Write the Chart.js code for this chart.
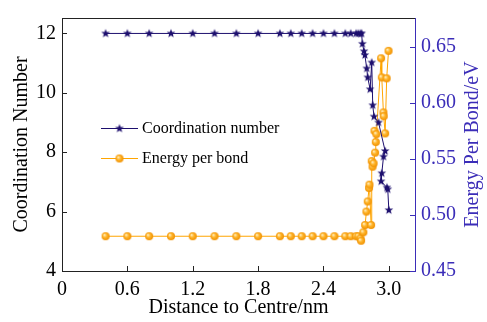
<!DOCTYPE html>
<html>
<head>
<meta charset="utf-8">
<script src="https://cdn.jsdelivr.net/npm/chart.js@4"></script>
<style>
  html, body { margin: 0; padding: 0; background: #fff; }
  #wrap { width: 487px; height: 322px; }
</style>
</head>
<body>
<div id="wrap"><canvas id="chart" width="487" height="322"></canvas></div>
<script>
// --- Data ---
const cnDist = [0.4, 0.6, 0.8, 1.0, 1.2, 1.4, 1.6, 1.8, 2.0, 2.1, 2.2, 2.3, 2.4, 2.5, 2.6, 2.65, 2.7, 2.72, 2.74, 2.75,
  2.757, 2.772, 2.78, 2.797, 2.806, 2.828, 2.843, 2.852, 2.864, 2.905, 2.966, 2.951, 2.935, 2.929, 2.982, 2.99, 3.0];
const cnValues = [12, 12, 12, 12, 12, 12, 12, 12, 12, 12, 12, 12, 12, 12, 12, 12, 12, 12, 12, 12,
  11.65, 11.40, 11.27, 10.82, 10.52, 10.12, 11.02, 9.58, 9.20, 9.00, 8.04, 7.85, 7.29, 7.02, 6.81, 6.75, 6.05];

const ebDist = [0.4, 0.6, 0.8, 1.0, 1.2, 1.4, 1.6, 1.8, 2.0, 2.1, 2.2, 2.3, 2.4, 2.5, 2.6, 2.65, 2.7, 2.72, 2.74,
  2.745, 2.766, 2.782, 2.794, 2.806, 2.818, 2.822, 2.837, 2.843, 2.85, 2.86, 2.874, 2.88, 2.868, 2.886,
  2.929, 2.935, 2.95, 2.953, 2.966, 2.98, 2.997];
const ebValues = [0.481, 0.481, 0.481, 0.481, 0.481, 0.481, 0.481, 0.481, 0.481, 0.481, 0.481, 0.481, 0.481, 0.481, 0.481, 0.481, 0.481, 0.481, 0.479,
  0.477, 0.4845, 0.491, 0.503, 0.512, 0.524, 0.527, 0.491, 0.548, 0.543, 0.546, 0.5555, 0.565, 0.575, 0.572,
  0.6397, 0.6226, 0.5914, 0.588, 0.5727, 0.6218, 0.6463];

const xTicks = [0, 0.6, 1.2, 1.8, 2.4, 3.0];
const cnTicks = [4, 6, 8, 10, 12];
const ebTicks = [0.45, 0.50, 0.55, 0.60, 0.65];

const FONT = "'Liberation Serif', 'Times New Roman', serif";
const NAVY = "#1d0f6e";
const ORANGE = "#ffa500";
const PURPLE = "#3b2db8";

// --- Marker images ---
function makeStar(r, color) {
  const c = document.createElement("canvas");
  const s = Math.ceil(r * 2) + 2;
  c.width = c.height = s;
  const g = c.getContext("2d");
  g.fillStyle = color;
  g.beginPath();
  for (let i = 0; i < 10; i++) {
    const rad = i % 2 ? r * 0.42 : r;
    const ang = -Math.PI / 2 + i * Math.PI / 5;
    g.lineTo(s / 2 + rad * Math.cos(ang), s / 2 + rad * Math.sin(ang));
  }
  g.closePath();
  g.fill();
  return c;
}

function makeBall(r) {
  const c = document.createElement("canvas");
  const s = r * 2 + 2;
  c.width = c.height = s;
  const g = c.getContext("2d");
  const grd = g.createRadialGradient(s / 2 - r * 0.35, s / 2 - r * 0.35, 0.3, s / 2, s / 2, r);
  grd.addColorStop(0, "#fff1c8");
  grd.addColorStop(0.45, "#ffb52a");
  grd.addColorStop(1, "#f09000");
  g.fillStyle = grd;
  g.beginPath();
  g.arc(s / 2, s / 2, r, 0, Math.PI * 2);
  g.fill();
  return c;
}

const starImg = makeStar(4.6, NAVY);
const ballImg = makeBall(4);

// --- Frame, inward ticks, right title and legend ---
const decorations = {
  id: "decorations",
  afterDraw(chart) {
    const ctx = chart.ctx;
    const a = chart.chartArea;
    const { x, y, y1 } = chart.scales;
    ctx.save();
    ctx.lineWidth = 1;

    ctx.strokeStyle = "#222";
    ctx.beginPath();
    ctx.moveTo(a.left, a.top + 0.5);
    ctx.lineTo(a.right, a.top + 0.5);
    ctx.stroke();

    ctx.beginPath();
    cnTicks.forEach(v => {
      const p = Math.round(y.getPixelForValue(v)) + 0.5;
      ctx.moveTo(a.left, p); ctx.lineTo(a.left + 5, p);
    });
    xTicks.forEach(v => {
      const p = Math.round(x.getPixelForValue(v)) + 0.5;
      ctx.moveTo(p, a.bottom); ctx.lineTo(p, a.bottom - 5);
    });
    ctx.stroke();

    ctx.strokeStyle = PURPLE;
    ctx.beginPath();
    ebTicks.forEach(v => {
      const p = Math.round(y1.getPixelForValue(v)) + 0.5;
      ctx.moveTo(a.right, p); ctx.lineTo(a.right - 5, p);
    });
    ctx.stroke();

    // right axis title reads bottom to top
    ctx.fillStyle = PURPLE;
    ctx.font = "20px " + FONT;
    ctx.textAlign = "center";
    ctx.textBaseline = "middle";
    ctx.translate(473, (a.top + a.bottom) / 2);
    ctx.rotate(-Math.PI / 2);
    ctx.fillText("Energy Per Bond/eV", 0, 0);
    ctx.setTransform(1, 0, 0, 1, 0, 0);

    // legend
    const items = [
      { label: chart.data.datasets[0].label, color: NAVY, img: starImg, y: 128.5 },
      { label: chart.data.datasets[1].label, color: ORANGE, img: ballImg, y: 158.5 }
    ];
    ctx.font = "16px " + FONT;
    ctx.textAlign = "left";
    items.forEach(it => {
      ctx.strokeStyle = it.color;
      ctx.beginPath();
      ctx.moveTo(101, it.y); ctx.lineTo(138, it.y);
      ctx.stroke();
      ctx.drawImage(it.img, 119.5 - it.img.width / 2, it.y - it.img.height / 2);
      ctx.fillStyle = "#000";
      ctx.fillText(it.label, 142, it.y);
    });
    ctx.restore();
  }
};

const toPoints = (xs, ys) => xs.map((v, i) => ({ x: v, y: ys[i] }));

new Chart(document.getElementById("chart"), {
  type: "scatter",
  data: {
    datasets: [
      {
        label: "Coordination number",
        data: toPoints(cnDist, cnValues),
        yAxisID: "y",
        showLine: true,
        borderColor: NAVY,
        borderWidth: 1,
        pointStyle: starImg,
        pointRadius: 4,
      },
      {
        label: "Energy per bond",
        data: toPoints(ebDist, ebValues),
        yAxisID: "y1",
        showLine: true,
        borderColor: ORANGE,
        borderWidth: 1,
        pointStyle: ballImg,
        pointRadius: 4,
      }
    ]
  },
  options: {
    responsive: false,
    animation: false,
    layout: { padding: { top: 8 } },
    plugins: {
      legend: { display: false },
      tooltip: { enabled: false }
    },
    scales: {
      x: {
        type: "linear",
        min: 0,
        max: 3.24,
        afterBuildTicks: s => { s.ticks = xTicks.map(v => ({ value: v })); },
        afterFit: s => { s.height = 51; },
        grid: { display: false, drawTicks: false },
        border: { color: "#222", width: 1 },
        ticks: {
          padding: 7,
          color: "#000",
          font: { family: FONT, size: 20 },
          maxRotation: 0,
          callback: v => v === 0 ? "0" : v.toFixed(1)
        },
        title: {
          display: true,
          text: "Distance to Centre/nm",
          color: "#000",
          font: { family: FONT, size: 20 },
          padding: { top: 0, bottom: 2 }
        }
      },
      y: {
        position: "left",
        min: 4,
        max: 12.52,
        afterBuildTicks: s => { s.ticks = cnTicks.map(v => ({ value: v })); },
        afterFit: s => { s.width = 62; },
        grid: { display: false, drawTicks: false },
        border: { color: "#222", width: 1 },
        ticks: {
          padding: 6,
          color: "#000",
          font: { family: FONT, size: 20 },
          callback: v => String(v)
        },
        title: {
          display: true,
          text: "Coordination Number",
          color: "#000",
          font: { family: FONT, size: 20 },
          padding: { top: 10, bottom: 0 }
        }
      },
      y1: {
        position: "right",
        min: 0.45,
        max: 0.6756,
        afterBuildTicks: s => { s.ticks = ebTicks.map(v => ({ value: v })); },
        afterFit: s => { s.width = 72; },
        grid: { display: false, drawTicks: false },
        border: { color: PURPLE, width: 1 },
        ticks: {
          padding: 6,
          color: PURPLE,
          font: { family: FONT, size: 20 },
          callback: v => v.toFixed(2)
        }
      }
    }
  },
  plugins: [decorations]
});
</script>
</body>
</html>
